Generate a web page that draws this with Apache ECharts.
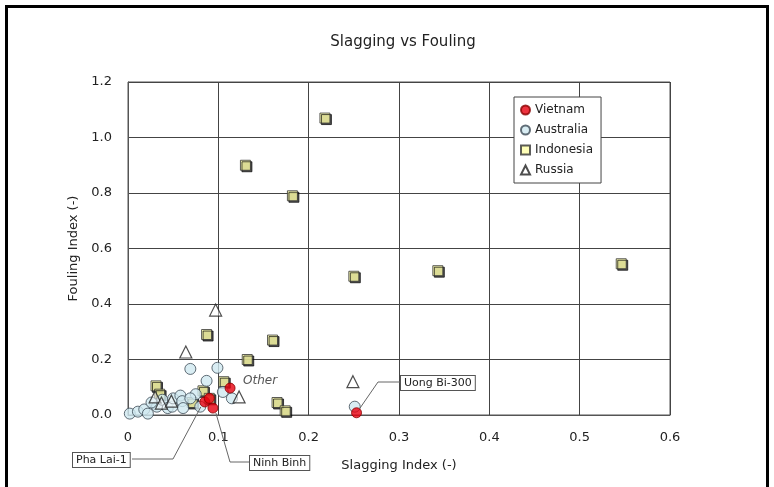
<!DOCTYPE html>
<html><head><meta charset="utf-8">
<script src="https://cdn.jsdelivr.net/npm/echarts@6/dist/echarts.min.js"></script>
<style>html,body{margin:0;padding:0;background:#fff}#c{width:774px;height:487px}</style>
</head><body><div id="c"></div>
<script>
const titleText = 'Slagging vs Fouling';
const xTitle = 'Slagging Index (-)';
const yTitle = 'Fouling Index (-)';
const xTicks = [0, 0.1, 0.2, 0.3, 0.4, 0.5, 0.6];
const yTicks = [0, 0.2, 0.4, 0.6, 0.8, 1.0, 1.2];

const vietnamX = [0.113, 0.085, 0.094, 0.090, 0.253];
const vietnamY = [0.097, 0.047, 0.025, 0.060, 0.008];

const australiaX = [0.002, 0.011, 0.018, 0.022, 0.030, 0.032, 0.038, 0.044, 0.049, 0.050, 0.058, 0.060, 0.061, 0.069, 0.075, 0.069, 0.099, 0.087, 0.105, 0.115, 0.251, 0.080, 0.026];
const australiaY = [0.005, 0.012, 0.020, 0.005, 0.040, 0.030, 0.055, 0.025, 0.030, 0.060, 0.070, 0.050, 0.025, 0.166, 0.075, 0.060, 0.170, 0.123, 0.083, 0.060, 0.030, 0.030, 0.045];

const indonesiaX = [0.218, 0.130, 0.182, 0.250, 0.343, 0.546, 0.087, 0.160, 0.132, 0.165, 0.174, 0.031, 0.071, 0.083, 0.106, 0.035, 0.090];
const indonesiaY = [1.070, 0.900, 0.790, 0.500, 0.520, 0.545, 0.290, 0.270, 0.200, 0.045, 0.015, 0.105, 0.045, 0.087, 0.120, 0.075, 0.060];

const russiaX = [0.097, 0.064, 0.123, 0.249, 0.030, 0.037, 0.048];
const russiaY = [0.378, 0.227, 0.065, 0.120, 0.065, 0.043, 0.050];

const labels = ['Pha Lai-1', 'Ninh Binh', 'Uong Bi-300', 'Other'];

const zip = (a, b) => a.map((v, i) => [v, b[i]]);
const FONT = 'DejaVu Sans';

const chart = echarts.init(document.getElementById('c'), null, {renderer: 'canvas'});

const sqStyle = {color: '#ffffa6', borderColor: '#333', borderWidth: 1, shadowColor: 'rgba(0,0,0,0.85)', shadowOffsetX: 1.5, shadowOffsetY: 1.5, shadowBlur: 0};

chart.setOption({
  animation: false,
  backgroundColor: '#fff',
  title: {text: titleText, left: 398, top: 30, textAlign: 'center',
    textStyle: {fontFamily: FONT, fontSize: 15, fontWeight: 'normal', color: '#222'}},
  grid: {left: 128, right: 104, top: 82, bottom: 72, show: true, borderColor: '#555', borderWidth: 1},
  legend: {
    orient: 'vertical', left: 514, top: 97, padding: [7, 8, 7, 6], itemGap: 8,
    itemWidth: 9, itemHeight: 9, borderColor: '#444', borderWidth: 1, backgroundColor: '#fff',
    textStyle: {fontFamily: FONT, fontSize: 12, color: '#222'},
    data: ['Vietnam', 'Australia', 'Indonesia', 'Russia']
  },
  xAxis: {
    type: 'value', min: 0, max: 0.6, interval: 0.1,
    name: xTitle, nameLocation: 'middle', nameGap: 44,
    nameTextStyle: {fontFamily: FONT, fontSize: 13, color: '#222'},
    axisLine: {show: true, lineStyle: {color: '#555'}}, axisTick: {show: false},
    axisLabel: {fontFamily: FONT, fontSize: 13, color: '#222', margin: 16,
      formatter: v => xTicks.includes(+v.toFixed(1)) ? String(+v.toFixed(1)) : ''},
    splitLine: {show: true, lineStyle: {color: '#444', width: 1}}
  },
  yAxis: {
    type: 'value', min: 0, max: 1.2, interval: 0.2,
    name: yTitle, nameLocation: 'middle', nameGap: 44,
    nameTextStyle: {fontFamily: FONT, fontSize: 13, color: '#222'},
    axisLine: {show: true, lineStyle: {color: '#555'}}, axisTick: {show: false},
    axisLabel: {fontFamily: FONT, fontSize: 13, color: '#222', margin: 16,
      formatter: v => yTicks.some(t => Math.abs(t - v) < 1e-6) ? v.toFixed(1) : ''},
    splitLine: {show: true, lineStyle: {color: '#444', width: 1}}
  },
  series: [
    {name: 'Indonesia', type: 'scatter', symbol: 'rect', symbolSize: 10, data: zip(indonesiaX, indonesiaY), itemStyle: sqStyle, z: 2},
    {name: 'Australia', type: 'scatter', symbol: 'circle', symbolSize: 11, data: zip(australiaX, australiaY),
      itemStyle: {color: '#cfe9f0', borderColor: '#3c4a55', borderWidth: 1}, z: 3},
    {name: 'Russia', type: 'scatter', symbol: 'triangle', symbolSize: 12, data: zip(russiaX, russiaY),
      itemStyle: {color: 'rgba(255,255,255,0.6)', borderColor: '#222', borderWidth: 1.2}, z: 4},
    {name: 'Vietnam', type: 'scatter', symbol: 'circle', symbolSize: 10, data: zip(vietnamX, vietnamY),
      itemStyle: {color: '#e8000f', borderColor: '#800', borderWidth: 1}, z: 5}
  ]
});

// annotations with leader lines to data points
const p = (x, y) => chart.convertToPixel({gridIndex: 0}, [x, y]);
const phaPt = p(vietnamX[1], vietnamY[1]);
const ninhPt = p(vietnamX[2], vietnamY[2]);
const uongPt = p(vietnamX[4], vietnamY[4]);
const boxStyle = {fill: '#222', font: '11px "DejaVu Sans"', backgroundColor: '#fff', borderColor: '#555', borderWidth: 1, padding: [2, 3, 1, 3]};
const lineSt = {stroke: '#666', lineWidth: 1, fill: null};

chart.setOption({
  graphic: [
    {type: 'rect', shape: {x: 6.5, y: 6.5, width: 761, height: 500}, style: {fill: null, stroke: '#000', lineWidth: 3}, z: 100, silent: true},
    {type: 'polyline', shape: {points: [[132, 459], [173, 459], [phaPt[0] - 4, phaPt[1] + 5]]}, style: lineSt, z: 50},
    {type: 'text', left: 72, top: 452, style: Object.assign({text: labels[0]}, boxStyle), z: 51},
    {type: 'polyline', shape: {points: [[249, 462], [230, 462], [ninhPt[0] + 3, ninhPt[1] + 5]]}, style: lineSt, z: 50},
    {type: 'text', left: 249, top: 455, style: Object.assign({text: labels[1]}, boxStyle), z: 51},
    {type: 'polyline', shape: {points: [[400, 382], [378, 382], [uongPt[0] + 3, uongPt[1] - 4]]}, style: lineSt, z: 50},
    {type: 'text', left: 400, top: 375, style: Object.assign({text: labels[2]}, boxStyle), z: 51},
    {type: 'text', left: 243, top: 375, style: {text: labels[3], fill: '#555', font: 'italic 12px "DejaVu Sans"'}, z: 51}
  ]
});
</script></body></html>
